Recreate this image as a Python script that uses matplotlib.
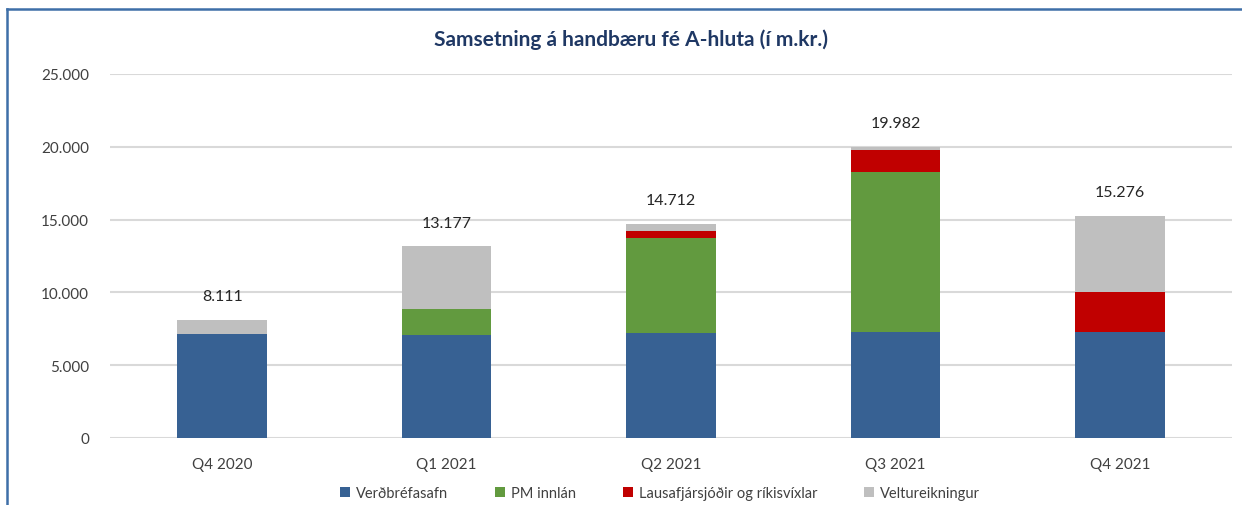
import numpy as np
import matplotlib.pyplot as plt
from matplotlib.lines import Line2D

plt.rcParams['font.family'] = ['Lato', 'DejaVu Sans']

# m.kr. eftir ársfjórðungum
flokkar = ["Q4 2020", "Q1 2021", "Q2 2021", "Q3 2021", "Q4 2021"]
verdbref = [7160, 7070, 7210, 7280, 7280]
pm_innlan = [0, 1790, 6510, 11010, 0]
lausafjar = [0, 0, 480, 1510, 2730]
samtals = [8111, 13177, 14712, 19982, 15276]
veltureikn = [s - a - b - c for s, a, b, c in zip(samtals, verdbref, pm_innlan, lausafjar)]

heiti = ["Verðbréfasafn", "PM innlán", "Lausafjársjóðir og ríkisvíxlar", "Veltureikningur"]
litir = ["#376193", "#629A3F", "#C00000", "#BFBFBF"]

W, H = 1242, 506
fig = plt.figure(figsize=(W / 100, H / 100), dpi=100)
ax = fig.add_axes([110 / W, 1 - 439 / H, (1232 - 110) / W, (439 - 75) / H])

x = np.arange(len(flokkar))
botn = np.zeros(len(flokkar))
for gildi, nafn, litur in zip([verdbref, pm_innlan, lausafjar, veltureikn], heiti, litir):
    ax.bar(x, gildi, 0.4, bottom=botn, color=litur, label=nafn, zorder=3)
    botn += np.array(gildi)

def punktar(v):
    return f"{v:,.0f}".replace(",", ".")

for xi, s in zip(x, samtals):
    ax.annotate(punktar(s), (xi, s), xytext=(0, 17), textcoords="offset points",
                ha="center", va="center", fontsize=11.5, color="#262626")

ax.set_xlim(-0.5, len(flokkar) - 0.5)
ax.set_ylim(0, 25000)
ax.set_yticks(np.arange(0, 25001, 5000))
ax.set_yticklabels([punktar(v) for v in np.arange(0, 25001, 5000)])
ax.set_xticks(x)
ax.set_xticklabels(flokkar)
ax.tick_params(length=0, labelsize=11, colors="#404040")
ax.tick_params(axis="y", pad=15)
ax.tick_params(axis="x", pad=14)
ax.grid(axis="y", color="#D9D9D9", linewidth=1.5, zorder=0)
for s in ax.spines.values():
    s.set_visible(False)

fig.text(631 / W, 1 - 40 / H, "Samsetning á handbæru fé A-hluta (í m.kr.)",
         ha="center", va="center", fontsize=15, fontweight="bold", color="#1F3864")

fig.legend(loc="center", bbox_to_anchor=(660 / W, 1 - 494 / H), ncol=4, frameon=False,
           fontsize=10.5, handlelength=0.7, handleheight=0.7, handletextpad=0.4,
           columnspacing=3.2, labelcolor="#404040")

# rammi efst og vinstra megin
fig.add_artist(Line2D([6.5 / W, 1], [1 - 9.5 / H, 1 - 9.5 / H], color="#3E6FA8", linewidth=1.8))
fig.add_artist(Line2D([6.5 / W, 6.5 / W], [0, 1 - 9.5 / H], color="#3E6FA8", linewidth=1.8))

fig.savefig("out.png", dpi=100)
